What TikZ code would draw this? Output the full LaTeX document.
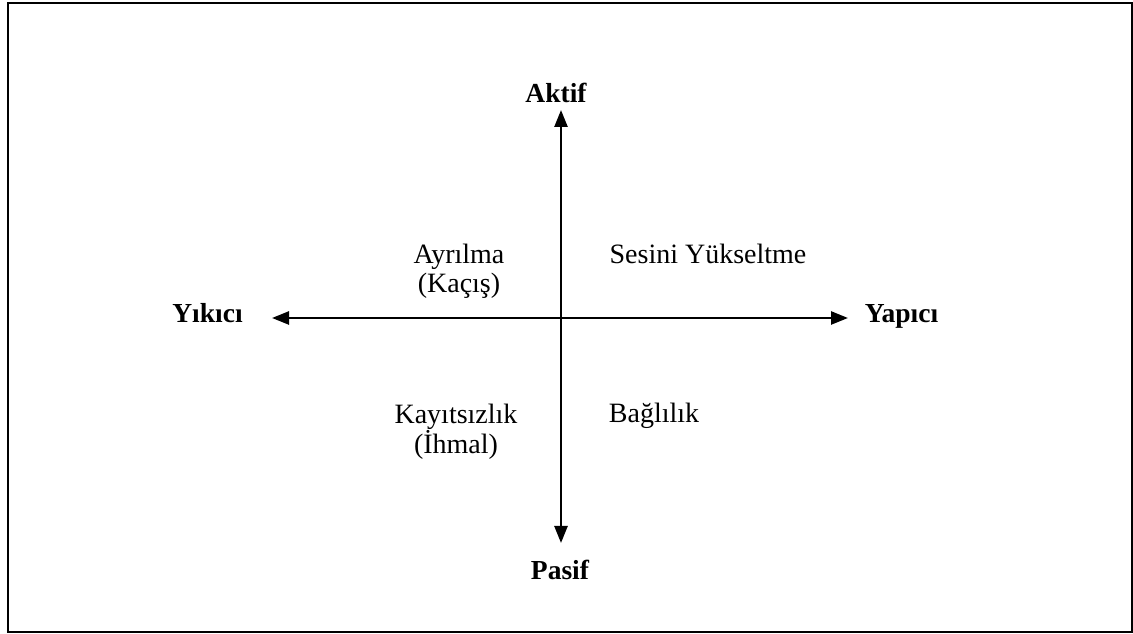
\documentclass[tikz,border=0pt]{standalone}
\usepackage{fontspec}
\setmainfont{Liberation Serif}
\usetikzlibrary{arrows.meta}
\tikzset{
  axis/.style={line width=2.5pt, {Triangle[length=17pt,width=13pt]}-{Triangle[length=17pt,width=13pt]}},
  pole/.style={inner sep=0pt, font=\fontsize{27.5}{30}\selectfont\bfseries},
  quad/.style={inner sep=0pt, align=center, font=\fontsize{28}{28.5}\selectfont},
  frame/.style={line width=2pt}
}
\begin{document}
\begin{tikzpicture}[x=1pt,y=1pt]
\useasboundingbox (0,0) rectangle (1133,634);
\draw[frame] (8,1.5) rectangle (1131.5,631);
% axis ends
\coordinate (top) at (561,524);
\coordinate (bot) at (561,91);
\coordinate (lft) at (272,316);
\coordinate (rgt) at (848,316);
\draw[axis] (bot) -- (top);
\draw[axis] (lft) -- (rgt);
% pole labels
\node[pole, anchor=base] (aktif) at (556,531) {Aktif};
\node[pole, anchor=base] (pasif) at (560,54) {Pasif};
\node[pole, anchor=base] (yikici) at (207.5,311) {Yıkıcı};
\node[pole, anchor=base] (yapici) at (901.5,311) {Yapıcı};
% quadrant labels
\node[quad, anchor=north] (ayrilma) at (459,390) {Ayrılma\\(Kaçış)};
\node[quad, anchor=base] (ses) at (708,370) {Sesini Yükseltme};
\node[quad, anchor=north] (kayit) at (456,230) {Kayıtsızlık\\(İhmal)};
\node[quad, anchor=base] (bag) at (654,211) {Bağlılık};
\end{tikzpicture}
\end{document}
